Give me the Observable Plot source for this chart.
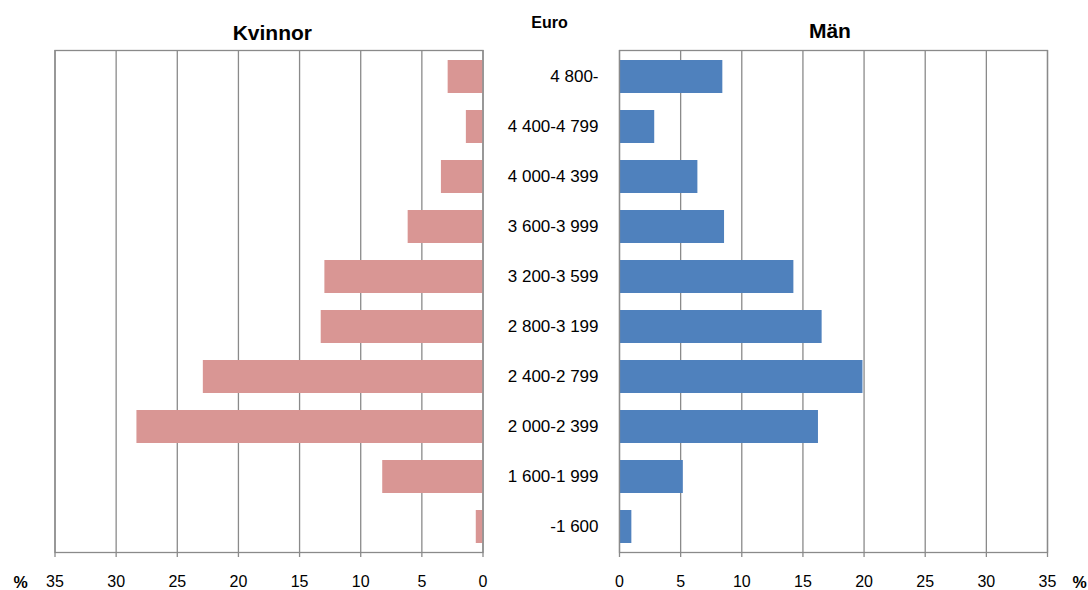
<!DOCTYPE html>
<html><head><meta charset="utf-8">
<script src="https://cdn.jsdelivr.net/npm/d3@7"></script>
<script src="https://cdn.jsdelivr.net/npm/@observablehq/plot@0.6"></script>
<style>
body{margin:0;background:#fff;}
#chart{position:relative;width:1088px;height:590px;}
#chart svg{position:absolute;left:0;top:0;}
</style></head><body><div id="chart"></div>
<script>
const categories = ["4 800-","4 400-4 799","4 000-4 399","3 600-3 999","3 200-3 599","2 800-3 199","2 400-2 799","2 000-2 399","1 600-1 999","-1 600"];
const women = [2.85, 1.36, 3.4, 6.12, 12.93, 13.23, 22.87, 28.3, 8.2, 0.55];
const men = [8.45, 2.88, 6.41, 8.59, 14.26, 16.57, 19.91, 16.27, 5.22, 1.01];
const xTicks = [0, 5, 10, 15, 20, 25, 30, 35];
const leftTitle = "Kvinnor";
const rightTitle = "Män";
const catTitle = "Euro";
const unitLabel = "%";

const font = "'Liberation Sans', Arial, sans-serif";
const grid = "#8a8a8a";
const wData = categories.map((c, i) => ({c, v: women[i]}));
const mData = categories.map((c, i) => ({c, v: men[i]}));

function common(extra) {
  return Object.assign({
    width: 1088, height: 590,
    marginTop: 50, marginBottom: 38,
    y: {domain: categories, paddingInner: 0.34, paddingOuter: 0.17, axis: null, label: null},
    style: {fontFamily: font, fontSize: "16px", background: "transparent", color: "#000", overflow: "visible"}
  }, extra);
}

const left = Plot.plot(common({
  marginLeft: 54.5, marginRight: 605.5,
  x: {domain: [35, 0], axis: null, label: null},
  marks: [
    Plot.gridX(xTicks, {stroke: grid, strokeOpacity: 1, strokeWidth: 1.3}),
    Plot.barX(wData, {x1: 0, x2: "v", y: "c", fill: "#D99694"}),
    Plot.frame({stroke: grid, strokeWidth: 1.3}),
    Plot.axisX(xTicks, {tickSize: 5, tickPadding: 18, stroke: grid, strokeWidth: 1.3, fontSize: 16, fill: "#000", tickFormat: d => d, label: null}),
    Plot.text([leftTitle], {frameAnchor: "top", text: d => d, lineAnchor: "bottom", dx: 3.3, dy: -11, fontSize: 21, fontWeight: "bold", fill: "#000"}),
    Plot.text([unitLabel], {frameAnchor: "bottom-left", text: d => d, lineAnchor: "bottom", textAnchor: "middle", dx: -34.5, dy: 35, fontSize: 16, fontWeight: "bold", fill: "#000"})
  ]
}));

const right = Plot.plot(common({
  marginLeft: 619, marginRight: 41,
  x: {domain: [0, 35], axis: null, label: null},
  marks: [
    Plot.gridX(xTicks, {stroke: grid, strokeOpacity: 1, strokeWidth: 1.3}),
    Plot.barX(mData, {x1: 0, x2: "v", y: "c", fill: "#4F81BD"}),
    Plot.frame({stroke: grid, strokeWidth: 1.3}),
    Plot.axisX(xTicks, {tickSize: 5, tickPadding: 18, stroke: grid, strokeWidth: 1.3, fontSize: 16, fill: "#000", tickFormat: d => d, label: null}),
    Plot.text(categories, {x: 0, y: d => d, text: d => d, dx: -21, textAnchor: "end", fontSize: 17, fill: "#000"}),
    Plot.text([rightTitle], {frameAnchor: "top", text: d => d, lineAnchor: "bottom", dx: -3.6, dy: -12.7, fontSize: 21, fontWeight: "bold", fill: "#000"}),
    Plot.text([catTitle], {frameAnchor: "top-left", text: d => d, lineAnchor: "bottom", textAnchor: "middle", dx: -70, dy: -22.7, fontSize: 16, fontWeight: "bold", fill: "#000"}),
    Plot.text([unitLabel], {frameAnchor: "bottom-right", text: d => d, lineAnchor: "bottom", textAnchor: "middle", dx: 32, dy: 35, fontSize: 16, fontWeight: "bold", fill: "#000"})
  ]
}));

document.getElementById("chart").append(left, right);
</script>
</body></html>
